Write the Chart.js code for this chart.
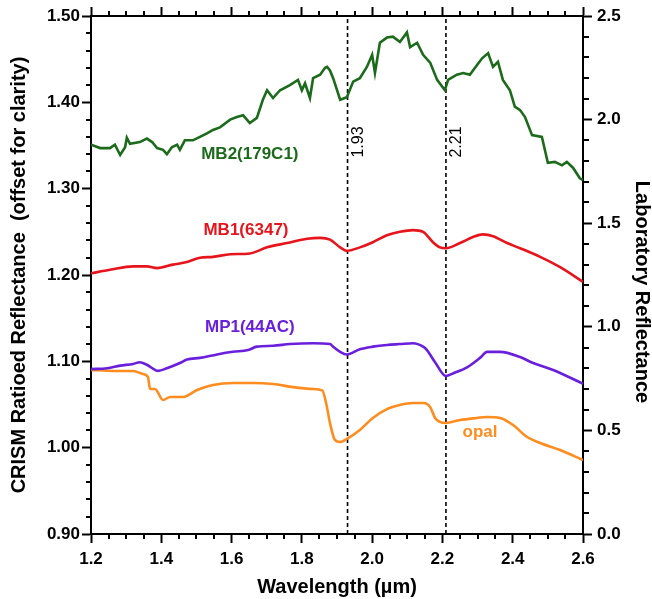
<!DOCTYPE html>
<html>
<head>
<meta charset="utf-8">
<script src="https://cdn.jsdelivr.net/npm/chart.js@4.4.1/dist/chart.umd.min.js"></script>
<style>
  html, body { margin: 0; padding: 0; background: #fff; }
</style>
</head>
<body>
<canvas id="spectra" width="652" height="599"></canvas>
<script>
// CRISM spectra (left axis)
const mb2Wave = [1.200,1.226,1.254,1.268,1.283,1.297,1.302,1.311,1.339,1.359,1.374,1.388,1.405,1.416,1.430,1.445,1.453,1.467,1.490,1.510,1.530,1.547,1.567,1.596,1.615,1.633,1.652,1.672,1.689,1.701,1.718,1.738,1.766,1.789,1.800,1.809,1.823,1.832,1.852,1.866,1.872,1.880,1.889,1.909,1.928,1.946,1.965,1.985,2.000,2.008,2.022,2.042,2.059,2.079,2.099,2.108,2.128,2.145,2.165,2.185,2.207,2.216,2.241,2.259,2.278,2.298,2.313,2.330,2.344,2.358,2.372,2.392,2.406,2.421,2.435,2.455,2.483,2.500,2.520,2.540,2.554,2.572,2.591,2.600];
const mb2Refl = [1.351,1.347,1.347,1.351,1.339,1.348,1.359,1.352,1.354,1.358,1.354,1.347,1.345,1.340,1.348,1.351,1.345,1.356,1.356,1.360,1.364,1.368,1.371,1.380,1.383,1.385,1.376,1.382,1.403,1.414,1.405,1.414,1.420,1.426,1.414,1.422,1.405,1.428,1.432,1.440,1.441,1.437,1.428,1.403,1.406,1.424,1.428,1.441,1.455,1.434,1.469,1.475,1.476,1.470,1.481,1.464,1.469,1.455,1.446,1.426,1.414,1.426,1.432,1.434,1.432,1.443,1.451,1.457,1.441,1.447,1.426,1.414,1.395,1.391,1.383,1.362,1.360,1.330,1.331,1.327,1.331,1.324,1.312,1.310];

const mb1Wave = [1.200,1.254,1.320,1.359,1.388,1.433,1.473,1.510,1.547,1.596,1.652,1.701,1.758,1.815,1.852,1.880,1.909,1.928,1.965,2.002,2.042,2.079,2.116,2.145,2.173,2.193,2.210,2.250,2.287,2.315,2.344,2.384,2.421,2.478,2.535,2.600];
const mb1Refl = [1.202,1.206,1.210,1.210,1.208,1.212,1.215,1.220,1.221,1.224,1.225,1.232,1.237,1.242,1.243,1.241,1.232,1.228,1.232,1.238,1.246,1.250,1.252,1.250,1.238,1.232,1.231,1.237,1.244,1.247,1.245,1.237,1.231,1.221,1.209,1.192];

const mp1Wave = [1.200,1.246,1.283,1.320,1.339,1.359,1.391,1.416,1.453,1.473,1.510,1.559,1.604,1.647,1.672,1.718,1.766,1.832,1.880,1.889,1.909,1.928,1.965,2.002,2.042,2.079,2.116,2.145,2.156,2.179,2.210,2.230,2.270,2.307,2.327,2.364,2.421,2.458,2.515,2.600];
const mp1Refl = [1.091,1.092,1.095,1.097,1.099,1.096,1.089,1.092,1.098,1.102,1.104,1.108,1.111,1.113,1.117,1.118,1.120,1.121,1.120,1.117,1.111,1.108,1.114,1.117,1.119,1.120,1.121,1.117,1.113,1.099,1.083,1.086,1.093,1.104,1.111,1.111,1.105,1.098,1.090,1.074];

// lab spectrum (right axis)
const opalWave = [1.200,1.263,1.320,1.348,1.362,1.368,1.382,1.405,1.425,1.462,1.502,1.547,1.604,1.661,1.718,1.775,1.832,1.858,1.869,1.880,1.894,1.909,1.928,1.965,2.002,2.042,2.079,2.116,2.145,2.165,2.179,2.193,2.210,2.250,2.298,2.327,2.364,2.401,2.441,2.478,2.535,2.600];
const opalRefl = [0.792,0.787,0.787,0.772,0.758,0.700,0.700,0.647,0.661,0.661,0.695,0.719,0.729,0.729,0.724,0.709,0.700,0.693,0.632,0.536,0.454,0.444,0.459,0.502,0.560,0.603,0.623,0.632,0.632,0.613,0.560,0.541,0.536,0.550,0.560,0.565,0.560,0.526,0.468,0.439,0.405,0.357];

// band positions marked with dashed lines
const bandCenters = [1.93, 2.21];

const pairs = (xs, ys) => xs.map((x, i) => ({ x: x, y: ys[i] }));

const curveLabels = [
    { text: 'MB2(179C1)', x: 1.652, y: 1.340, color: '#1b6b1b' },
    { text: 'MB1(6347)', x: 1.641, y: 1.252, color: '#e8141c' },
    { text: 'MP1(44AC)', x: 1.652, y: 1.139, color: '#6a1fdc' },
    { text: 'opal', x: 2.307, y: 1.018, color: '#ff8c1e' }
];

const bandLines = bandCenters.map(b => ({
    type: 'line',
    data: [{ x: b, y: 0.9 }, { x: b, y: 1.5 }],
    yAxisID: 'y',
    borderColor: '#000',
    borderWidth: 1.6,
    borderDash: [4, 3],
    pointRadius: 0
}));

const minorTicks = {
    id: 'minorTicks',
    afterDraw(chart) {
        const ctx = chart.ctx;
        const { x, y, y2 } = chart.scales;
        const area = chart.chartArea;
        ctx.save();
        ctx.strokeStyle = '#000';
        ctx.lineWidth = 2;
        ctx.beginPath();
        for (let v = 1.25; v < 2.6; v += 0.05) {
            if (Math.abs(v * 5 - Math.round(v * 5)) < 0.01) continue;
            const px = Math.round(x.getPixelForValue(v));
            ctx.moveTo(px, area.bottom); ctx.lineTo(px, area.bottom + 5);
            ctx.moveTo(px, area.top); ctx.lineTo(px, area.top - 5);
        }
        for (let v = 0.92; v < 1.5; v += 0.02) {
            if (Math.abs(v * 10 - Math.round(v * 10)) < 0.01) continue;
            const py = Math.round(y.getPixelForValue(v));
            ctx.moveTo(area.left, py); ctx.lineTo(area.left - 5, py);
        }
        for (let v = 0.1; v < 2.5; v += 0.1) {
            if (Math.abs(v * 2 - Math.round(v * 2)) < 0.01) continue;
            const py = Math.round(y2.getPixelForValue(v));
            ctx.moveTo(area.right, py); ctx.lineTo(area.right + 6, py);
        }
        ctx.stroke();

        // right axis title
        ctx.fillStyle = '#000';
        ctx.font = 'bold 20px Arial, "Liberation Sans"';
        ctx.textAlign = 'center';
        ctx.textBaseline = 'middle';
        ctx.translate(642, (area.top + area.bottom) / 2 + 17);
        ctx.rotate(Math.PI / 2);
        ctx.fillText('Laboratory Reflectance', 0, 0);
        ctx.restore();
    },
    afterDatasetsDraw(chart) {
        const ctx = chart.ctx;
        const { x, y } = chart.scales;
        ctx.save();
        ctx.textAlign = 'center';
        ctx.textBaseline = 'middle';
        ctx.font = 'bold 17px Arial, "Liberation Sans"';
        curveLabels.forEach(l => {
            ctx.fillStyle = l.color;
            ctx.fillText(l.text, x.getPixelForValue(l.x), y.getPixelForValue(l.y));
        });
        ctx.font = '16px Arial, "Liberation Sans"';
        ctx.fillStyle = '#000';
        bandCenters.forEach(b => {
            ctx.save();
            ctx.translate(x.getPixelForValue(b + 0.031), y.getPixelForValue(1.354));
            ctx.rotate(-Math.PI / 2);
            ctx.fillText(b.toFixed(2), 0, 0);
            ctx.restore();
        });
        ctx.restore();
    }
};

const tickFont = { family: 'Arial, "Liberation Sans"', size: 17, weight: 'bold' };
const axisGrid = { drawOnChartArea: false, tickLength: 9, tickWidth: 2, tickColor: '#000' };
const axisBorder = { color: '#000', width: 2 };

new Chart(document.getElementById('spectra'), {
    type: 'line',
    data: {
        datasets: [
            { data: pairs(mb2Wave, mb2Refl), yAxisID: 'y', borderColor: '#1b6b1b', borderWidth: 2.6, pointRadius: 0 },
            { data: pairs(mb1Wave, mb1Refl), yAxisID: 'y', borderColor: '#e8141c', borderWidth: 2.6, pointRadius: 0, cubicInterpolationMode: 'monotone' },
            { data: pairs(mp1Wave, mp1Refl), yAxisID: 'y', borderColor: '#6a1fdc', borderWidth: 2.6, pointRadius: 0, cubicInterpolationMode: 'monotone' },
            { data: pairs(opalWave, opalRefl), yAxisID: 'y2', borderColor: '#ff8c1e', borderWidth: 2.6, pointRadius: 0, cubicInterpolationMode: 'monotone' },
            ...bandLines
        ]
    },
    options: {
        responsive: false,
        devicePixelRatio: 1,
        animation: false,
        layout: { padding: 0 },
        plugins: { legend: { display: false }, tooltip: { enabled: false } },
        scales: {
            x: {
                type: 'linear', position: 'bottom', min: 1.2, max: 2.6,
                ticks: { stepSize: 0.2, color: '#000', font: tickFont, padding: 6, callback: v => v.toFixed(1) },
                grid: axisGrid, border: axisBorder,
                title: { display: true, text: 'Wavelength (µm)', color: '#000',
                         font: { family: 'Arial, "Liberation Sans"', size: 20, weight: 'bold', lineHeight: 1 },
                         padding: { top: 0, bottom: 2 } },
                afterFit: s => { s.height = 65; }
            },
            x2: {
                type: 'linear', position: 'top', min: 1.2, max: 2.6, display: true,
                ticks: { stepSize: 0.2, display: false },
                grid: axisGrid, border: axisBorder,
                afterFit: s => { s.height = 16; }
            },
            y: {
                type: 'linear', position: 'left', min: 0.9, max: 1.5,
                ticks: { stepSize: 0.1, color: '#000', font: tickFont, padding: 2, callback: v => v.toFixed(2) },
                grid: axisGrid, border: axisBorder,
                title: { display: true, text: 'CRISM Ratioed Reflectance  (offset for clarity)', color: '#000',
                         font: { family: 'Arial, "Liberation Sans"', size: 20, weight: 'bold', lineHeight: 1 },
                         padding: { top: 9, bottom: 0 } },
                afterFit: s => { s.width = 91; }
            },
            y2: {
                type: 'linear', position: 'right', min: 0, max: 2.5,
                ticks: { stepSize: 0.5, color: '#000', font: tickFont, padding: 5, callback: v => v.toFixed(1) },
                grid: axisGrid, border: axisBorder,
                afterFit: s => { s.width = 69; }
            }
        }
    },
    plugins: [minorTicks]
});
</script>
</body>
</html>
